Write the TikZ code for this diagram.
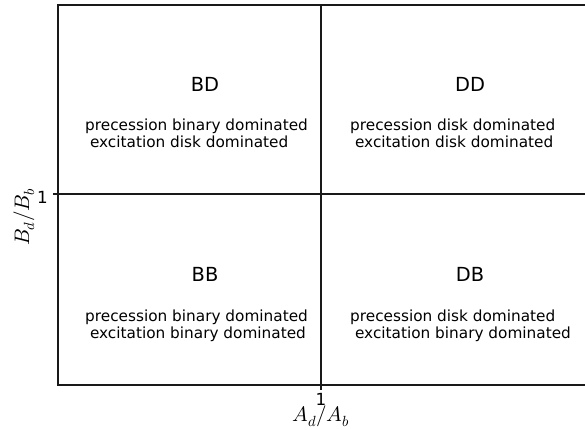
\documentclass[tikz,border=0pt]{standalone}
\usepackage{fontspec}
\setmainfont{DejaVu Sans}
\usepackage{unicode-math}
\setmathfont{Latin Modern Math}
\begin{document}
\begin{tikzpicture}[x=1pt,y=-1pt,
  frame/.style={line width=1.1pt,black!90},
  region/.style={font=\fontsize{19.4}{22}\selectfont,anchor=base},
  desc/.style={font=\fontsize{15.3}{17}\selectfont,anchor=north west,align=left,inner sep=0pt},
  tick/.style={font=\fontsize{16.7}{19}\selectfont,inner sep=0pt},
  axlabel/.style={font=\fontsize{21}{24}\selectfont,inner sep=0pt}]
\useasboundingbox (0,0) rectangle (585,429);
\coordinate (tl) at (58,5);
\coordinate (tr) at (586,5);
\coordinate (bl) at (58,385);
\coordinate (br) at (586,385);
\coordinate (mt) at (321,5);
\coordinate (mb) at (321,385);
\coordinate (ml) at (58,194);
\coordinate (mr) at (586,194);
\coordinate (ytk) at (53,194);
\coordinate (xtk) at (321,390);
\draw[frame] (tr) -- (tl) -- (bl) -- (br);
\draw[frame] (mt) -- (mb);
\draw[frame] (ml) -- (mr);
\draw[frame] (ml) -- (ytk);
\draw[frame] (mb) -- (xtk);
\node[region] (bd) at (205,91) {BD};
\node[region] (dd) at (470,91) {DD};
\node[region] (bb) at (205,281) {BB};
\node[region] (db) at (470,281) {DB};
\node[desc] (bdt) at (85,118.5) {precession binary dominated\\ \ excitation disk dominated};
\node[desc] (ddt) at (350,118.5) {precession disk dominated\\ \ excitation disk dominated};
\node[desc] (bbt) at (85,309.5) {precession binary dominated\\ \ excitation binary dominated};
\node[desc] (dbt) at (350,309.5) {precession disk dominated\\ \ excitation binary dominated};
\node[tick,anchor=base east] (yt) at (48,203) {1};
\node[tick,anchor=base] (xt) at (321,405) {1};
\node[axlabel,rotate=90,anchor=base] (yl) at (29,217) {$B_d/B_b$};
\node[axlabel,anchor=base] (xl) at (321,421) {$A_d/A_b$};
\end{tikzpicture}
\end{document}
